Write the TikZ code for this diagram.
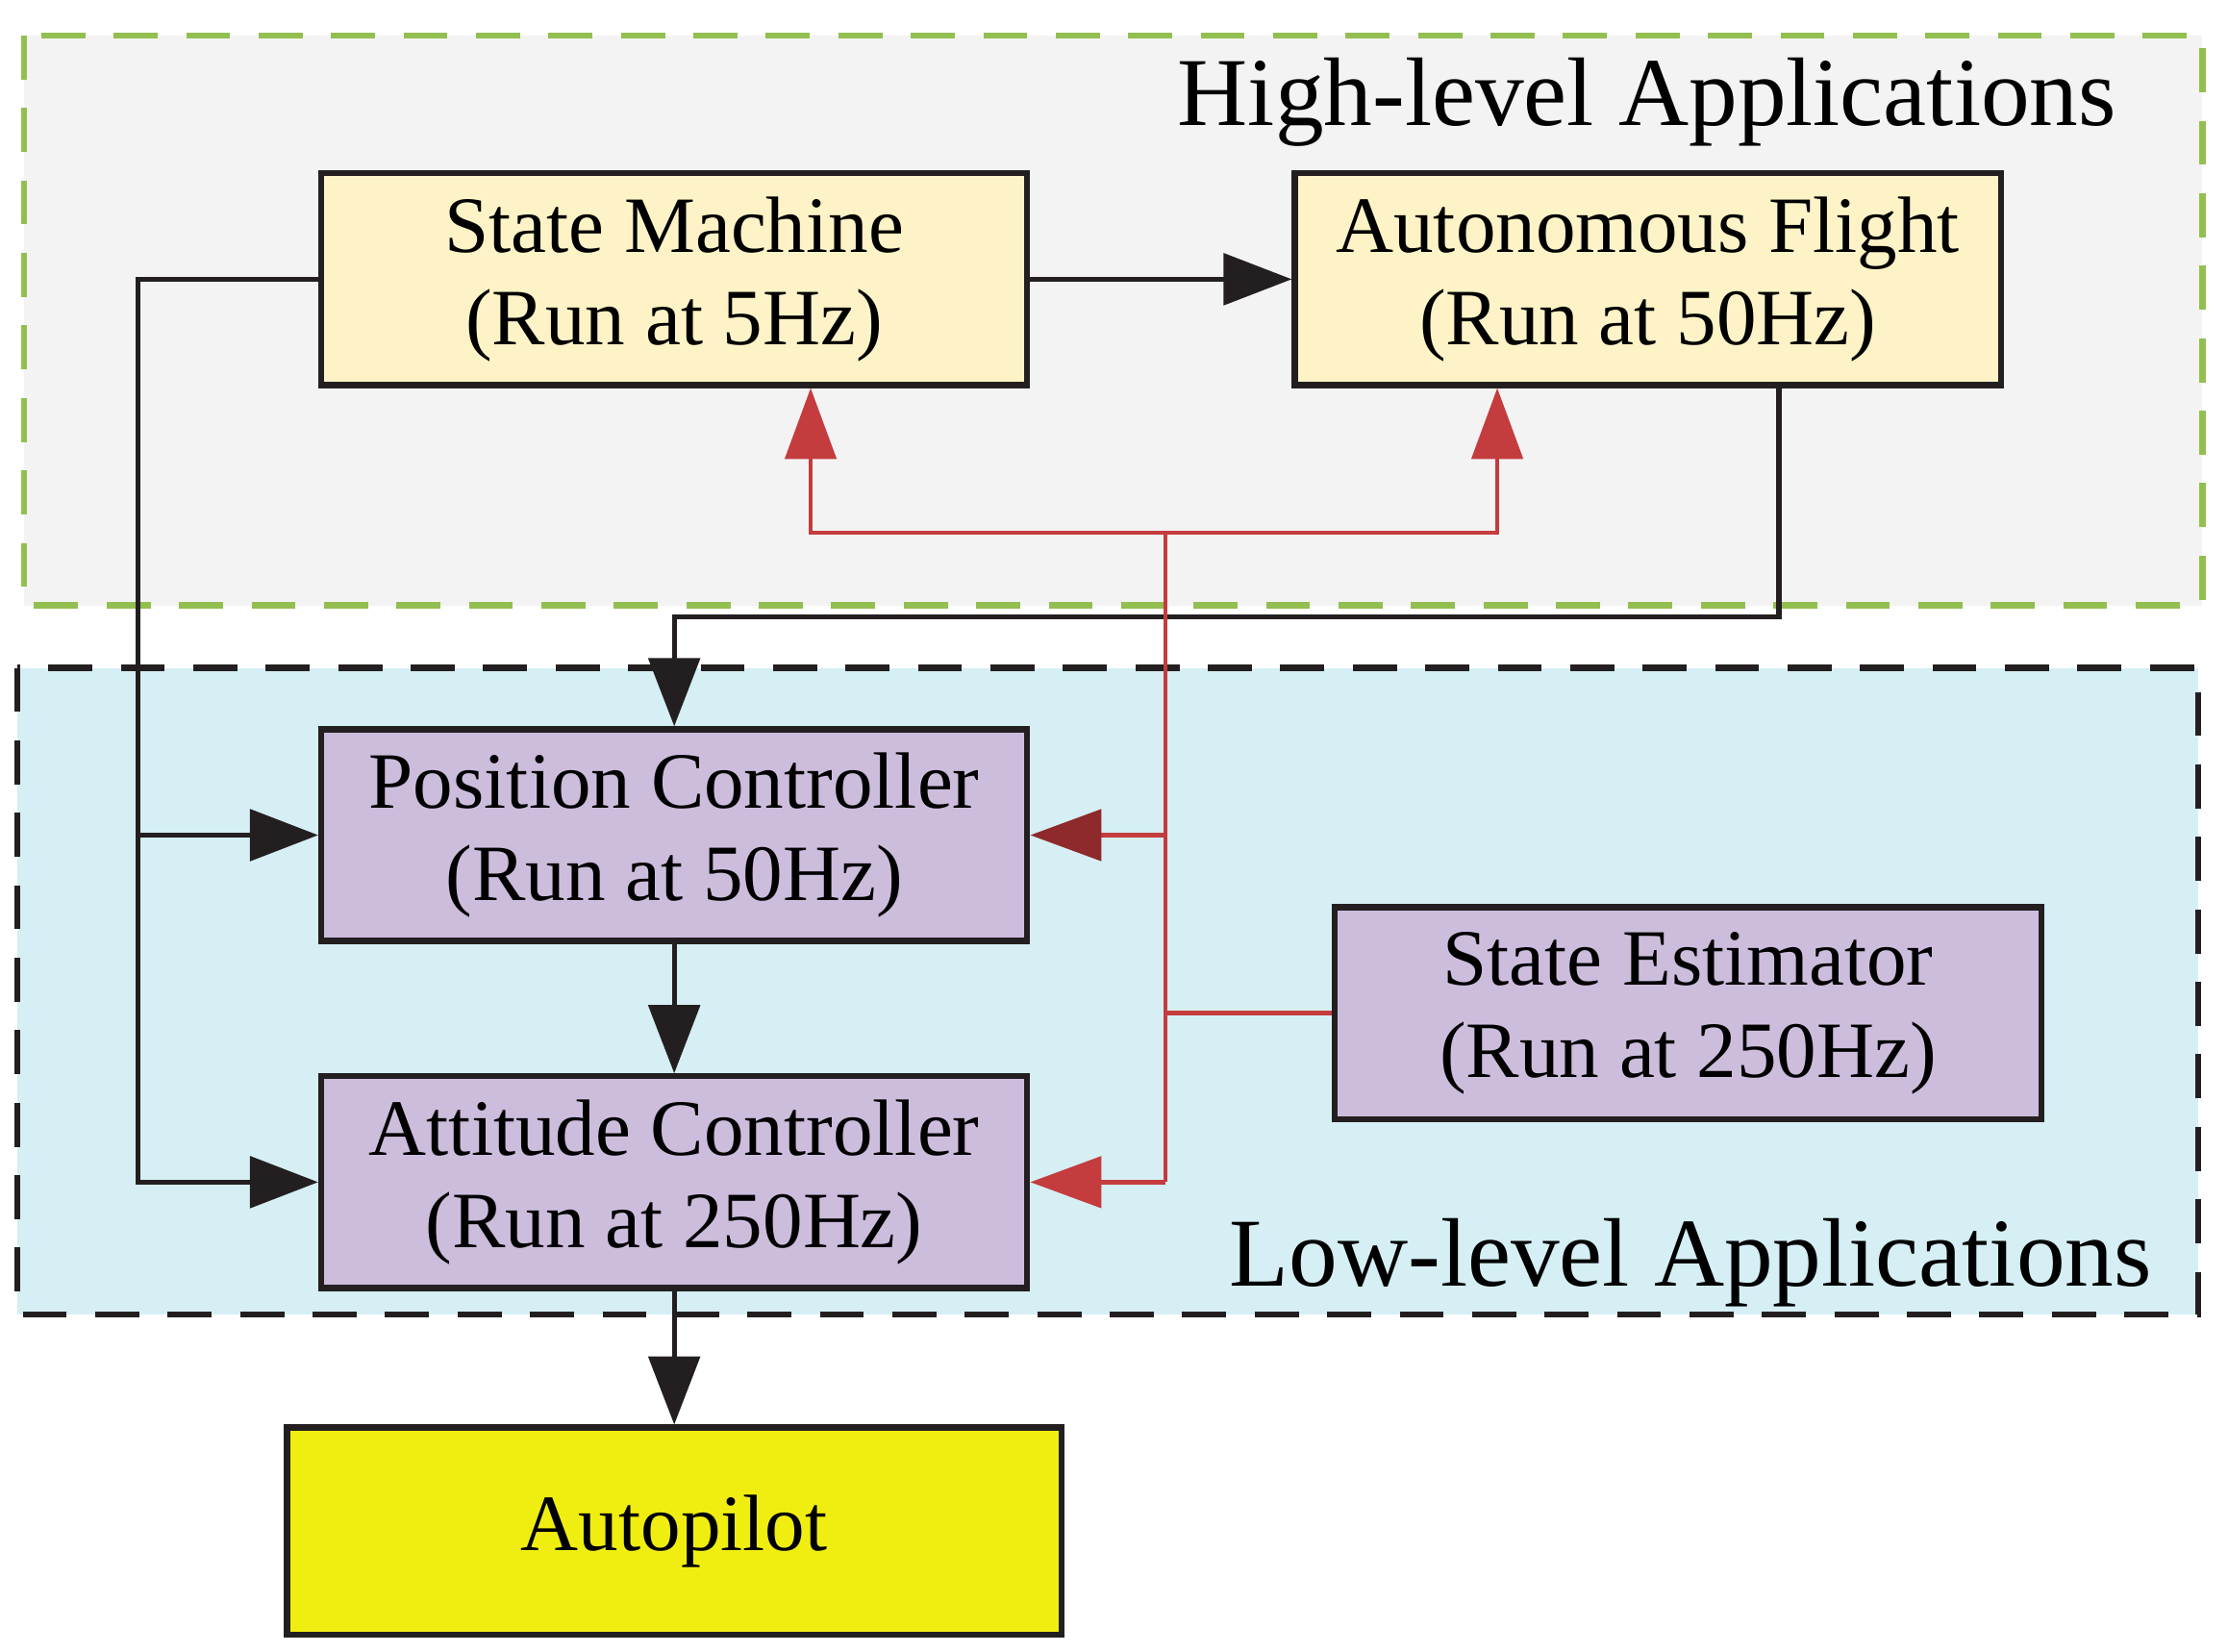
\documentclass[tikz,border=0pt]{standalone}
\usepackage{fontspec}
\setmainfont{Liberation Serif}
\usepackage{xcolor}
\usetikzlibrary{arrows.meta,positioning,calc}

\definecolor{linecol}{HTML}{231F20}
\definecolor{highfill}{HTML}{F3F3F3}
\definecolor{highedge}{HTML}{92BF50}
\definecolor{lowfill}{HTML}{D5EFF4}
\definecolor{taskfill}{HTML}{FDF3C6}
\definecolor{ctrlfill}{HTML}{CDBDDD}
\definecolor{pilotfill}{HTML}{F0EE10}
\definecolor{sigred}{HTML}{C43C3E}
\definecolor{sigdark}{HTML}{8E2A2C}

\begin{document}
\begin{tikzpicture}[node distance=2cm, auto,
    box/.style={draw=linecol, line width=1.2pt, rectangle, minimum width=4.97cm, minimum height=1.49cm, align=center, font=\fontsize{16}{18.5}\selectfont},
    taskbox/.style={box, fill=taskfill},
    ctrlbox/.style={box, fill=ctrlfill},
    arr/.style={draw=linecol, line width=1pt, -{Triangle[length=4.8mm, width=3.6mm]}},
    sigline/.style={draw=sigred, line width=0.85pt},
    sigarr/.style={sigline, -{Triangle[length=5mm, width=3.6mm]}},
    grouptitle/.style={font=\fontsize{19.5}{22}\selectfont, inner sep=0pt, anchor=base east}]
    \useasboundingbox (0,0) rectangle (15.68,-11.62);

    % Groups
    \filldraw[fill=highfill, draw=highedge, line width=1.2pt, dash pattern=on 3.1mm off 2mm] (0.17,-0.25) rectangle (15.50,-4.26);
    \filldraw[fill=lowfill, draw=linecol, line width=1.2pt, dash pattern=on 3.1mm off 2mm] (0.12,-4.70) rectangle (15.47,-9.25);
    \node[grouptitle] (hightitle) at (14.90,-0.88) {High-level Applications};
    \node[grouptitle] (lowtitle) at (15.15,-9.05) {Low-level Applications};

    % Nodes
    \node[taskbox] (sm) at (4.745,-1.965) {State Machine\\(Run at 5Hz)};
    \node[taskbox, right=1.84cm of sm] (af) {Autonomous Flight\\(Run at 50Hz)};
    \node[ctrlbox, below=2.38cm of sm] (pc) {Position Controller\\(Run at 50Hz)};
    \node[ctrlbox, below=0.91cm of pc] (ac) {Attitude Controller\\(Run at 250Hz)};
    \node[ctrlbox] (se) at (11.88,-7.13) {State Estimator\\(Run at 250Hz)};
    \node[box, fill=pilotfill, minimum width=5.45cm, minimum height=1.46cm, below=0.94cm of ac] (ap) {Autopilot};

    \coordinate (busL) at (0.97,-5.77);
    \coordinate (busH) at (12.52,-4.34);
    \coordinate (busR) at (8.20,-3.75);

    % Arrows
    \draw[arr] (sm) -- (af);
    \draw[arr] (sm.west) -| (busL) |- (ac.west);
    \draw[arr] (pc.west -| busL) -- (pc.west);
    \draw[arr] (af.south -| busH) -- (busH) -| (pc.north);
    \draw[arr] (pc) -- (ac);
    \draw[arr] (ac) -- (ap);

    % State estimate feedback
    \draw[sigline] (se.west) -- (busR |- se.west);
    \draw[sigline] (busR) -- (busR |- ac.east);
    \draw[sigarr] (busR) -| ($(sm.south)+(0.96,0)$);
    \draw[sigarr] (busR) -| ($(af.south)+(-1.06,0)$);
    \draw[sigline, -{Triangle[length=5mm, width=3.6mm, color=sigdark]}] (busR |- pc.east) -- (pc.east);
    \draw[sigarr] (busR |- ac.east) -- (ac.east);
\end{tikzpicture}
\end{document}
